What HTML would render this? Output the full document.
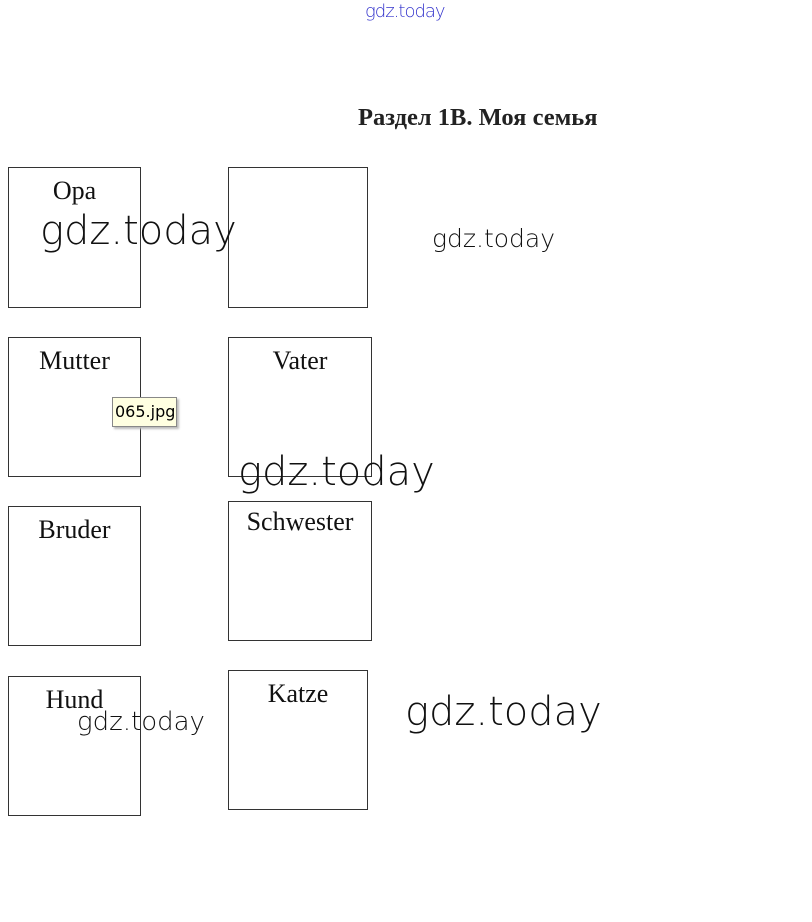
<!DOCTYPE html>
<html><head><meta charset="utf-8"><style>
body{margin:0;width:812px;height:922px;background:#fff;position:relative;overflow:hidden}
.b{position:absolute;border:1px solid #333;box-sizing:border-box}
.l{position:absolute;font-family:"Liberation Serif",serif;font-size:26px;color:#111;width:100%;text-align:center;top:8px}
.w{position:absolute;font-family:"DejaVu Sans","Liberation Sans",sans-serif;font-weight:200;color:#111;white-space:nowrap;letter-spacing:0px}
</style></head><body>
<div class="w" style="left:365px;top:1px;font-size:18px;color:#33c;letter-spacing:-1px">gdz.today</div>
<div style="position:absolute;left:358px;top:104px;font-family:'Liberation Serif',serif;font-weight:bold;font-size:24.5px;color:#222">Раздел 1В. Моя семья</div>

<div class="b" style="left:8px;top:167px;width:133px;height:141px"><div class="l">Opa</div></div>
<div class="b" style="left:228px;top:167px;width:140px;height:141px"></div>
<div class="b" style="left:8px;top:337px;width:133px;height:140px"><div class="l">Mutter</div></div>
<div class="b" style="left:228px;top:337px;width:144px;height:140px"><div class="l">Vater</div></div>
<div class="b" style="left:8px;top:506px;width:133px;height:140px"><div class="l">Bruder</div></div>
<div class="b" style="left:228px;top:501px;width:144px;height:140px"><div class="l" style="top:5px">Schwester</div></div>
<div class="b" style="left:8px;top:676px;width:133px;height:140px"><div class="l">Hund</div></div>
<div class="b" style="left:228px;top:670px;width:140px;height:140px"><div class="l">Katze</div></div>

<div style="position:absolute;left:112px;top:397px;width:65px;height:30px;background:#ffffe1;border:1px solid #888;box-shadow:2px 2px 2px #bbb;box-sizing:border-box;font-family:'DejaVu Sans',sans-serif;font-size:16px;line-height:28px;padding-left:2px">065.jpg</div>

<div class="w" style="left:40px;top:208px;font-size:40px">gdz.today</div>
<div class="w" style="left:432px;top:224px;font-size:25px">gdz.today</div>
<div class="w" style="left:238px;top:449px;font-size:40px">gdz.today</div>
<div class="w" style="left:77px;top:707px;font-size:26px">gdz.today</div>
<div class="w" style="left:405px;top:689px;font-size:40px">gdz.today</div>
</body></html>
